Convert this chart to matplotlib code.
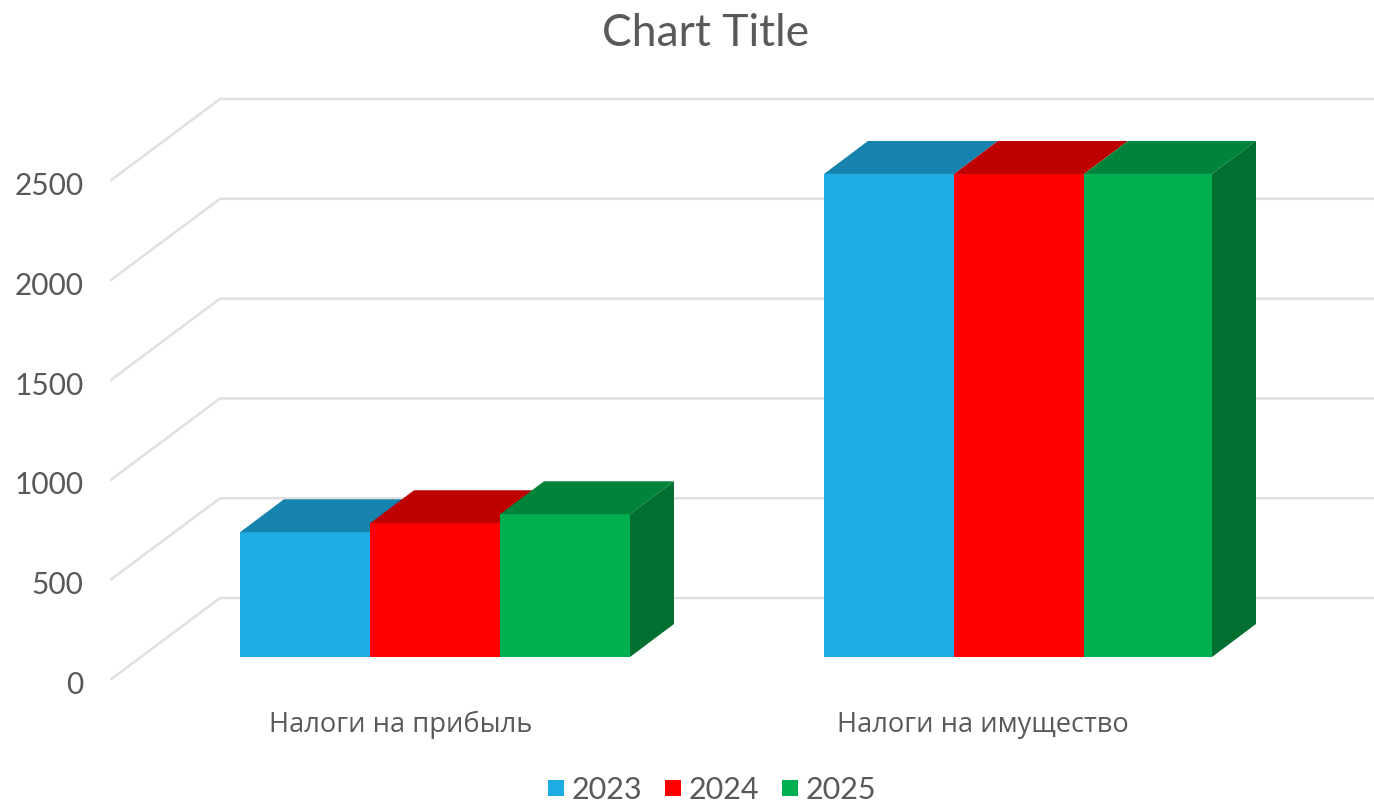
import matplotlib
matplotlib.use("Agg")
import matplotlib.pyplot as plt
from matplotlib.patches import Polygon
from matplotlib.transforms import ScaledTranslation

categories = ["Налоги на прибыль", "Налоги на имущество"]
years = ["2023", "2024", "2025"]
values_2023 = [625, 2420]
values_2024 = [670, 2420]
values_2025 = [715, 2420]
y_ticks = [0, 500, 1000, 1500, 2000, 2500]

front_colors = ["#1dade4", "#ff0000", "#00b050"]
top_colors = ["#1583ad", "#bf0000", "#00843c"]
side_colors = ["#166f93", "#a00000", "#006f30"]

# pixel scale of the axes: x is px, y is value (about 0.2 px per unit)
W, H = 1374, 800
PX_Y = 5.01
fig = plt.figure(figsize=(W / 100, H / 100), dpi=100)
ax = fig.add_axes([110 / W, (H - 680) / H, (W - 110) / W, 600 / H])
ax.set_xlim(0, W - 110)
ax.set_ylim(0, 600 * PX_Y)
for s in ax.spines.values():
    s.set_visible(False)
ax.patch.set_alpha(0)

# wall depth and bar depth
wall_dx, wall_dy = 110, 82 * PX_Y
bar_dx, bar_dy = 44, 33 * PX_Y
floor_y = 23 * PX_Y
group_left = [130, 714]
group_widths = [[130, 130, 130], [130, 130, 128]]

for t in y_ticks:
    ax.plot([0, wall_dx, W - 110], [t, t + wall_dy, t + wall_dy], color="#e0e0e0", lw=1.8, solid_capstyle="butt", zorder=1)

series = [values_2023, values_2024, values_2025]
for g in range(2):
    x0 = group_left[g]
    for i, vals in enumerate(series):
        v = vals[g] + floor_y
        x1 = x0 + group_widths[g][i]
        ax.bar(x0, vals[g], width=group_widths[g][i], bottom=floor_y, align="edge", color=front_colors[i], lw=0, zorder=3 + i)
        ax.add_patch(Polygon([(x0, v), (x1, v), (x1 + bar_dx, v + bar_dy), (x0 + bar_dx, v + bar_dy)], closed=True, fc=top_colors[i], ec="none", zorder=3 + i))
        x0 = x1
    # side face only shows on the last bar
    b = floor_y
    v = series[2][g] + floor_y
    ax.add_patch(Polygon([(x0, b), (x0 + bar_dx, b + bar_dy), (x0 + bar_dx, v + bar_dy), (x0, v)], closed=True, fc=side_colors[2], ec="none", zorder=7))

ax.set_yticks(y_ticks)
ax.set_yticklabels([str(t) for t in y_ticks], fontsize=21.5, color="#595959", family="Lato")
ax.tick_params(axis="y", length=0, pad=19)
for lab in ax.get_yticklabels():
    lab.set_transform(lab.get_transform() + ScaledTranslation(0, -2.5 / 100, fig.dpi_scale_trans))
ax.set_xticks([291, 873])
ax.set_xticklabels(categories, fontsize=19.6, color="#595959", family="Open Sans")
ax.tick_params(axis="x", length=0, pad=22)

fig.text(706 / W, 1 - 34 / H, "Chart Title", ha="center", va="center", fontsize=32, color="#595959", family="Lato")

# legend
for x, name, c in zip([548, 665, 782], years, front_colors):
    fig.patches.append(plt.Rectangle((x / W, 1 - 796 / H), 16 / W, 16 / H, transform=fig.transFigure, fc=c, ec="none"))
    fig.text((x + 24) / W, 1 - 790 / H, name, ha="left", va="center", fontsize=22, color="#595959", family="Lato")

fig.savefig("out.png", dpi=100)
